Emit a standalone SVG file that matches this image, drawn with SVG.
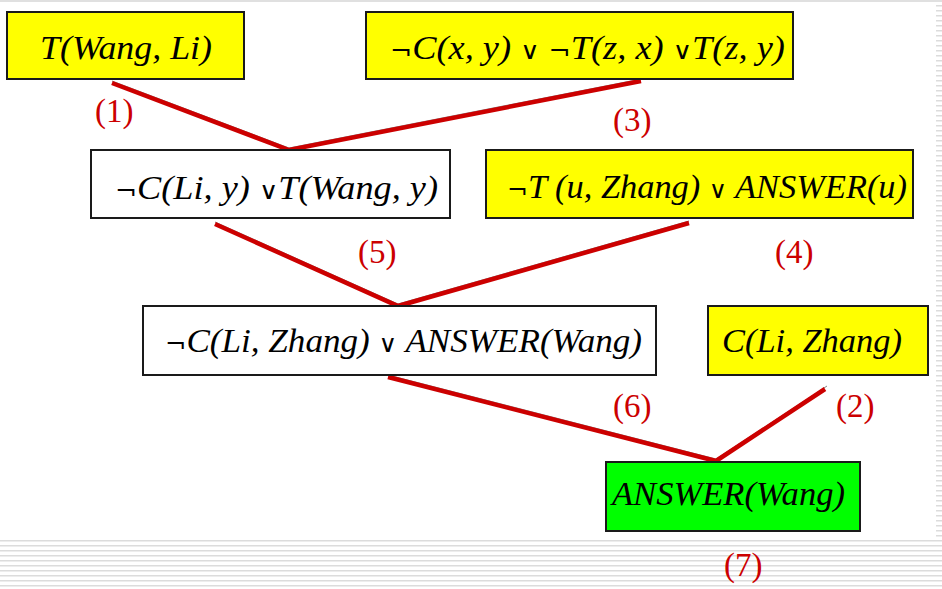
<svg xmlns="http://www.w3.org/2000/svg" width="942" height="589" viewBox="0 0 942 589">
<style>
.box{stroke:#1a1a1a;stroke-width:2}
.y{fill:#ffff00}
.w{fill:#ffffff}
.g{fill:#00ff00}
.t{font-family:"Liberation Serif","DejaVu Serif",serif;font-style:italic;font-size:33px;fill:#000}
.s{font-style:normal;font-family:"DejaVu Serif","Liberation Serif",serif;font-size:24px;font-weight:300}
.lbl{font-family:"Liberation Serif",serif;font-size:33px;fill:#cc0000}
.c{stroke:#cc0000;stroke-width:4.5;fill:none;stroke-linecap:butt}
.sh{stroke:#333;stroke-width:1;fill:none;opacity:0.6}
</style>
<defs>
<pattern id="stripes" x="0" y="0" width="10" height="5" patternUnits="userSpaceOnUse">
<rect x="0" y="0" width="10" height="1.5" fill="#dcdcdc"/>
</pattern>
</defs>
<rect x="0" y="0" width="942" height="589" fill="#ffffff"/>
<rect x="0" y="0" width="942" height="2" fill="#e0e0e0"/>
<rect x="0" y="539" width="942" height="50" fill="url(#stripes)"/>
<rect x="936" y="5" width="6" height="534" fill="url(#stripes)"/>

<g id="connectors">
<path class="sh" d="M112,81 L289,148 L641,79"/>
<path class="c" d="M112,83 L289,150 L641,81"/>
<path class="sh" d="M215,222 L398,304 L689,221"/>
<path class="c" d="M215,224 L398,306 L689,223"/>
<path class="sh" d="M388,375 L716,459 L827,386"/>
<path class="c" d="M388,377 L716,461 L825,389"/>
</g>

<g id="n1">
<rect class="box y" x="7" y="12" width="237" height="67"/>
<text class="t" x="40" y="59" textLength="172" lengthAdjust="spacingAndGlyphs">T(Wang, Li)</text>
</g>
<g id="n3">
<rect class="box y" x="366" y="12" width="427" height="67"/>
<text class="t" x="390" y="59" textLength="395" lengthAdjust="spacingAndGlyphs"><tspan class="s">¬</tspan>C(x, y) <tspan class="s">∨</tspan> <tspan class="s">¬</tspan>T(z, x) <tspan class="s">∨</tspan>T(z, y)</text>
</g>
<g id="n5">
<rect class="box w" x="91" y="150" width="359" height="68"/>
<text class="t" x="115" y="199" textLength="323" lengthAdjust="spacingAndGlyphs"><tspan class="s">¬</tspan>C(Li, y) <tspan class="s">∨</tspan>T(Wang, y)</text>
</g>
<g id="n4">
<rect class="box y" x="486" y="150" width="427" height="68"/>
<text class="t" x="507" y="198" textLength="400" lengthAdjust="spacingAndGlyphs"><tspan class="s">¬</tspan>T (u, Zhang) <tspan class="s">∨</tspan> ANSWER(u)</text>
</g>
<g id="n6">
<rect class="box w" x="143" y="306" width="513" height="69"/>
<text class="t" x="165" y="352" textLength="477" lengthAdjust="spacingAndGlyphs"><tspan class="s">¬</tspan>C(Li, Zhang) <tspan class="s">∨</tspan> ANSWER(Wang)</text>
</g>
<g id="n2">
<rect class="box y" x="708" y="306" width="220" height="69"/>
<text class="t" x="722" y="352" textLength="180" lengthAdjust="spacingAndGlyphs">C(Li, Zhang)</text>
</g>
<g id="n7">
<rect class="box g" x="606" y="462" width="254" height="69"/>
<text class="t" x="612" y="505" textLength="233" lengthAdjust="spacingAndGlyphs">ANSWER(Wang)</text>
</g>

<g id="labels">
<text class="lbl" x="95" y="122">(1)</text>
<text class="lbl" x="613" y="131">(3)</text>
<text class="lbl" x="358" y="263">(5)</text>
<text class="lbl" x="775" y="263">(4)</text>
<text class="lbl" x="613" y="417">(6)</text>
<text class="lbl" x="836" y="417">(2)</text>
<text class="lbl" x="724" y="576">(7)</text>
</g>
</svg>
